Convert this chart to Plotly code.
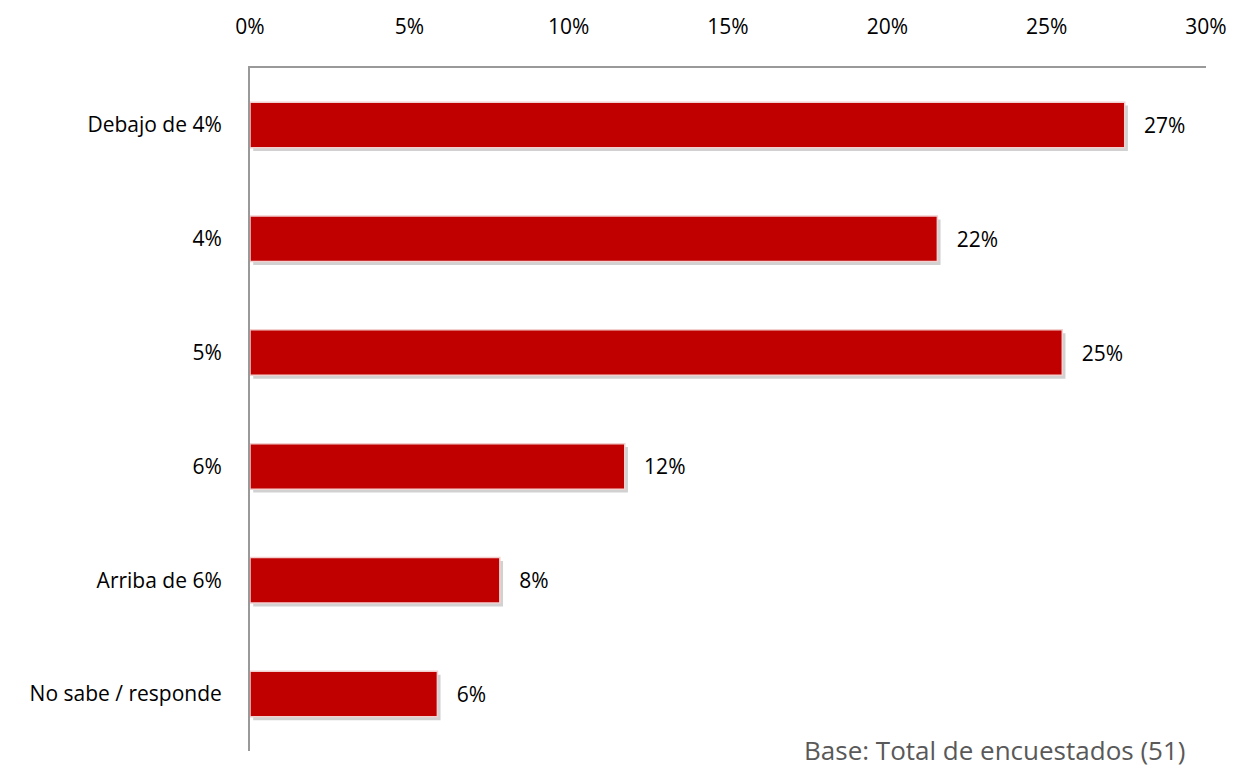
import plotly.graph_objects as go

categories = ["Debajo de 4%", "4%", "5%", "6%", "Arriba de 6%", "No sabe / responde"]
values = [27.45, 21.57, 25.49, 11.76, 7.84, 5.88]
labels = ["27%", "22%", "25%", "12%", "8%", "6%"]
tick_vals = [0, 5, 10, 15, 20, 25, 30]
tick_text = ["0%", "5%", "10%", "15%", "20%", "25%", "30%"]

FONT = "'Open Sans', 'Noto Sans', sans-serif"
PAD = "\u00a0\u00a0\u00a0"

fig = go.Figure()
# soft shadow behind bars
fig.add_trace(go.Bar(
    y=categories, x=values, orientation="h", base=0.1,
    width=0.4, offset=-0.17,
    marker=dict(color="rgba(0,0,0,0.18)", line=dict(width=0)),
    hoverinfo="skip", showlegend=False,
))
fig.add_trace(go.Bar(
    y=categories, x=values, orientation="h",
    width=0.4, offset=-0.2,
    marker=dict(color="#C00000", line=dict(color="#F2D0D0", width=1.5)),
    text=[PAD + t for t in labels], textposition="outside", cliponaxis=False,
    textfont=dict(size=21, color="#000000", family=FONT),
    showlegend=False,
))

fig.update_layout(
    width=1239, height=771,
    margin=dict(l=250, r=31, t=66, b=20),
    paper_bgcolor="white", plot_bgcolor="white",
    barmode="overlay",
    font=dict(family=FONT, size=21, color="#000000"),
    xaxis=dict(
        side="top", range=[0, 30], tickvals=tick_vals, ticktext=tick_text,
        showgrid=False, zeroline=False, showline=True, linecolor="#999999",
        linewidth=2, ticks="", tickfont=dict(size=21), ticklabelstandoff=24,
    ),
    yaxis=dict(
        categoryorder="array", categoryarray=categories,
        showgrid=False, zeroline=False, showline=True, linecolor="#999999",
        linewidth=2, ticks="", tickfont=dict(size=21), ticklabelstandoff=22,
        range=[5.5, -0.5],
    ),
    annotations=[dict(
        text="Base: Total de encuestados (51)", xref="paper", yref="paper",
        x=1.0, y=0, xanchor="right", yanchor="middle", showarrow=False,
        xshift=-20, yshift=1, borderpad=0,
        font=dict(size=26, color="#595959", family=FONT),
    )],
)

fig.write_html("out.html", config={"displayModeBar": False},
               post_script="document.body.style.margin='0';")
